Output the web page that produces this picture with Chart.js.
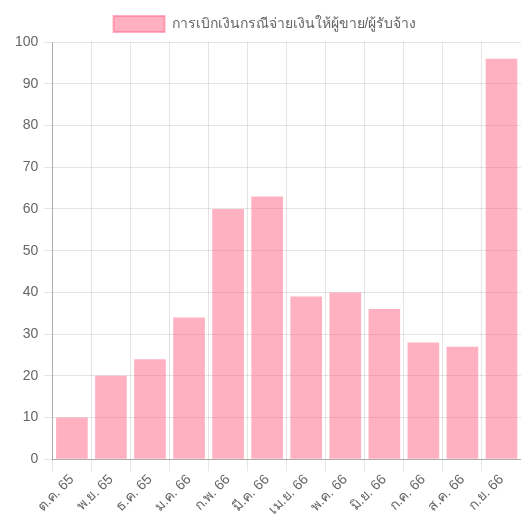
<!DOCTYPE html>
<html>
<head>
<meta charset="utf-8">
<script src="https://cdn.jsdelivr.net/npm/chart.js@4/dist/chart.umd.min.js"></script>
<style>
  html, body { margin: 0; padding: 0; background: #fff; }
  #wrap { width: 521px; height: 518px; position: relative; }
</style>
</head>
<body>
<div id="wrap"><canvas id="chart" width="521" height="518"></canvas></div>
<script>
// Monthly counts of disbursements paid to vendors / contractors (FY 2566)
const months = ['ต.ค. 65', 'พ.ย. 65', 'ธ.ค. 65', 'ม.ค. 66', 'ก.พ. 66', 'มี.ค. 66',
                'เม.ย. 66', 'พ.ค. 66', 'มิ.ย. 66', 'ก.ค. 66', 'ส.ค. 66', 'ก.ย. 66'];
const disbursements = [10, 20, 24, 34, 60, 63, 39, 40, 36, 28, 27, 96];
const seriesLabel = 'การเบิกเงินกรณีจ่ายเงินให้ผู้ขาย/ผู้รับจ้าง';

const fill = 'rgba(255, 99, 132, 0.5)';
const fontFamily = "'Liberation Sans', Arial, 'Noto Sans', sans-serif";
Chart.defaults.font.family = fontFamily;
Chart.defaults.font.size = 14;
Chart.defaults.color = '#666';

new Chart(document.getElementById('chart'), {
  type: 'bar',
  data: {
    labels: months,
    datasets: [{
      label: seriesLabel,
      data: disbursements,
      backgroundColor: fill,
      borderWidth: 0,
      barPercentage: 0.9,
      categoryPercentage: 0.9
    }]
  },
  options: {
    responsive: false,
    animation: false,
    layout: { padding: { left: 9, right: 0, top: 6, bottom: 0 } },
    plugins: {
      legend: {
        display: true,
        labels: {
          boxWidth: 51,
          boxHeight: 16,
          font: { size: 14 },
          color: '#666',
          // legend swatch keeps an outlined box in the series colour
          generateLabels(chart) {
            const items = Chart.defaults.plugins.legend.labels.generateLabels(chart);
            items.forEach(it => {
              it.fillStyle = fill;
              it.strokeStyle = fill;
              it.lineWidth = 2;
            });
            return items;
          }
        }
      },
      tooltip: { enabled: false }
    },
    scales: {
      x: {
        grid: { color: 'rgba(0,0,0,0.1)', tickLength: 12 },
        border: { color: 'rgba(0,0,0,0.25)' },
        ticks: { maxRotation: 45, minRotation: 45, padding: 0, font: { size: 14 }, color: '#666' }
      },
      y: {
        min: 0,
        max: 100,
        grid: { color: 'rgba(0,0,0,0.1)', tickLength: 8 },
        border: { color: 'rgba(0,0,0,0.25)' },
        ticks: { stepSize: 10, padding: 6, font: { size: 14 }, color: '#666' }
      }
    }
  }
});
</script>
</body>
</html>
